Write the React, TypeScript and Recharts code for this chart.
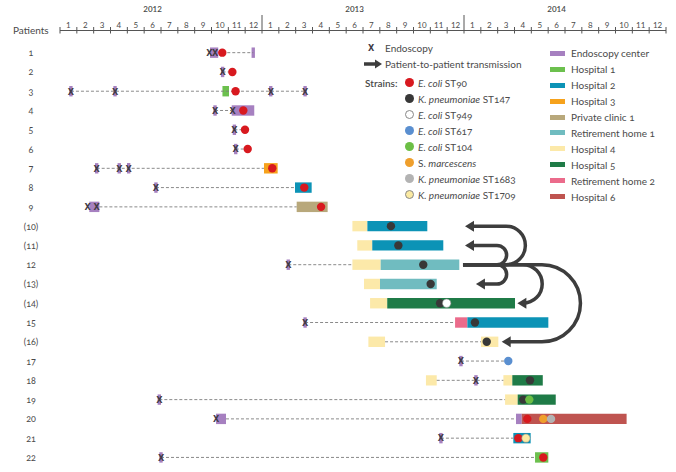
import React from "react";
import { ComposedChart, XAxis, YAxis, Scatter, ReferenceArea, ReferenceLine } from "recharts";

const W = 676;
const H = 472;
const FONT = "Lato, 'Open Sans', sans-serif";
const TEXT = "#4a4a4a";
const ARROW = "#3d3d3d";

// time axis in months since 1 Jan 2012
const yearLabels = ["2012", "2013", "2014"];
const monthLabels = ["1", "2", "3", "4", "5", "6", "7", "8", "9", "10", "11", "12"];
const monthTicks = Array.from({ length: 37 }, (_, i) => i);

const patientLabels = [
  "1", "2", "3", "4", "5", "6", "7", "8", "9", "(10)", "(11)",
  "12", "(13)", "(14)", "15", "(16)", "17", "18", "19", "20", "21", "22",
];
const patientRows = patientLabels.map((_, i) => i + 1);

const placeNames = [
  "Endoscopy center", "Hospital 1", "Hospital 2", "Hospital 3", "Private clinic 1",
  "Retirement home 1", "Hospital 4", "Hospital 5", "Retirement home 2", "Hospital 6",
];
const placeColors: Record<string, string> = {
  "Endoscopy center": "#a680c0",
  "Hospital 1": "#6cc04e",
  "Hospital 2": "#0c93b6",
  "Hospital 3": "#f6a21c",
  "Private clinic 1": "#b8a87b",
  "Retirement home 1": "#70bcc0",
  "Hospital 4": "#fce9a9",
  "Hospital 5": "#1f7b47",
  "Retirement home 2": "#eb6b8b",
  "Hospital 6": "#bf5450",
};

// [prefix, italic, suffix]
const strainLabels: [string, string, string][] = [
  ["", "E. coli", " ST90"],
  ["", "K. pneumoniae", " ST147"],
  ["", "E. coli", " ST949"],
  ["", "E. coli", " ST617"],
  ["", "E. coli", " ST104"],
  ["S. ", "marcescens", ""],
  ["", "K. pneumoniae", " ST1683"],
  ["", "K. pneumoniae", " ST1709"],
];
const strainNames = strainLabels.map((s) => s.join(""));
const strainColors: Record<string, string> = {
  "E. coli ST90": "#d8191f",
  "K. pneumoniae ST147": "#383838",
  "E. coli ST949": "#ffffff",
  "E. coli ST617": "#5a8fd0",
  "E. coli ST104": "#6cbf45",
  "S. marcescens": "#ef9f2c",
  "K. pneumoniae ST1683": "#b3b3b3",
  "K. pneumoniae ST1709": "#fbeaa2",
};

// stays: [patient row, start month, end month, place]; single-day visits have start == end
const stays: [number, number, number, string][] = [
  [1, 8.91, 9.4, "Endoscopy center"], [1, 11.48, 11.48, "Endoscopy center"],
  [2, 9.66, 9.66, "Endoscopy center"],
  [3, 0.65, 0.65, "Endoscopy center"], [3, 3.27, 3.27, "Endoscopy center"],
  [3, 9.65, 10.04, "Hospital 1"], [3, 12.52, 12.52, "Endoscopy center"], [3, 14.56, 14.56, "Endoscopy center"],
  [4, 9.21, 9.21, "Endoscopy center"], [4, 10.2, 11.54, "Endoscopy center"],
  [5, 10.36, 10.36, "Endoscopy center"],
  [6, 10.44, 10.44, "Endoscopy center"],
  [7, 2.18, 2.18, "Endoscopy center"], [7, 3.52, 3.52, "Endoscopy center"], [7, 4.08, 4.08, "Endoscopy center"],
  [7, 12.12, 12.93, "Hospital 3"],
  [8, 5.7, 5.7, "Endoscopy center"], [8, 13.96, 14.95, "Hospital 2"],
  [9, 1.74, 2.34, "Endoscopy center"], [9, 14.06, 15.9, "Private clinic 1"],
  [10, 17.37, 18.26, "Hospital 4"], [10, 18.26, 21.82, "Hospital 2"],
  [11, 17.66, 18.55, "Hospital 4"], [11, 18.55, 22.77, "Hospital 2"],
  [12, 13.56, 13.56, "Endoscopy center"], [12, 17.37, 19.05, "Hospital 4"], [12, 19.05, 23.72, "Retirement home 1"],
  [13, 18.06, 19.01, "Hospital 4"], [13, 19.01, 22.38, "Retirement home 1"],
  [14, 18.42, 19.44, "Hospital 4"], [14, 19.44, 27.03, "Hospital 5"],
  [15, 14.56, 14.56, "Endoscopy center"], [15, 23.47, 24.2, "Retirement home 2"], [15, 24.2, 29.01, "Hospital 2"],
  [16, 18.32, 19.31, "Hospital 4"], [16, 25.01, 26.04, "Hospital 4"],
  [17, 23.82, 23.82, "Endoscopy center"],
  [18, 21.74, 22.38, "Hospital 4"], [18, 24.71, 24.71, "Endoscopy center"],
  [18, 26.34, 26.87, "Hospital 4"], [18, 26.87, 28.68, "Hospital 5"],
  [19, 5.9, 5.9, "Endoscopy center"], [19, 26.44, 27.19, "Hospital 4"], [19, 27.19, 29.45, "Hospital 5"],
  [20, 9.27, 9.86, "Endoscopy center"], [20, 27.09, 27.43, "Endoscopy center"], [20, 27.43, 33.66, "Hospital 6"],
  [21, 22.63, 22.63, "Endoscopy center"], [21, 26.93, 27.96, "Hospital 2"],
  [22, 6.0, 6.0, "Endoscopy center"], [22, 28.22, 29.01, "Hospital 1"],
];

// endoscopies: [patient row, month]
const endoscopies: [number, number][] = [
  [1, 8.87], [1, 9.21], [2, 9.66], [3, 0.65], [3, 3.27], [3, 12.52], [3, 14.56],
  [4, 9.21], [4, 10.26], [5, 10.36], [6, 10.44], [7, 2.18], [7, 3.52], [7, 4.08],
  [8, 5.7], [9, 1.64], [9, 2.18], [12, 13.56], [15, 14.56], [17, 23.82], [18, 24.71],
  [19, 5.9], [20, 9.27], [21, 22.63], [22, 6.0],
];

// isolates: [patient row, month, strain]
const isolates: [number, number, string][] = [
  [1, 9.64, "E. coli ST90"], [2, 10.24, "E. coli ST90"], [3, 10.43, "E. coli ST90"],
  [4, 10.89, "E. coli ST90"], [5, 10.99, "E. coli ST90"], [6, 11.15, "E. coli ST90"],
  [7, 12.61, "E. coli ST90"], [8, 14.51, "E. coli ST90"], [9, 15.51, "E. coli ST90"],
  [10, 19.66, "K. pneumoniae ST147"], [11, 20.1, "K. pneumoniae ST147"],
  [12, 21.58, "K. pneumoniae ST147"], [13, 22.02, "K. pneumoniae ST147"],
  [14, 22.58, "K. pneumoniae ST147"], [14, 22.97, "E. coli ST949"],
  [15, 24.65, "K. pneumoniae ST147"], [16, 25.35, "K. pneumoniae ST147"],
  [17, 26.63, "E. coli ST617"], [18, 27.92, "K. pneumoniae ST147"],
  [19, 27.52, "K. pneumoniae ST147"], [19, 27.88, "E. coli ST104"],
  [20, 27.76, "E. coli ST90"], [20, 28.71, "S. marcescens"], [20, 29.17, "K. pneumoniae ST1683"],
  [21, 27.23, "E. coli ST90"], [21, 27.68, "K. pneumoniae ST1709"],
  [22, 28.71, "E. coli ST90"],
];

// follow-up (dashed): [patient row, from month, to month]
const followUps: [number, number, number][] = [
  [1, 9.64, 11.48], [2, 9.66, 10.24], [3, 0.65, 14.56], [4, 9.21, 10.2], [5, 10.36, 10.99],
  [6, 10.44, 11.15], [7, 2.18, 12.12], [8, 5.7, 13.96], [9, 2.34, 14.06], [12, 13.56, 17.37],
  [15, 14.56, 23.47], [16, 19.31, 25.01], [17, 23.82, 26.63], [18, 22.38, 26.34],
  [19, 5.9, 26.44], [20, 9.86, 27.09], [21, 22.63, 26.93], [22, 6.0, 28.22],
];

// transmissions: [from row, to row, start month, turn month, arrow tip month]
const transmissions: [number, number, number, number, number][] = [
  [12, 10, 23.94, 26.5, 24.06],
  [12, 11, 23.94, 25.96, 24.06],
  [12, 13, 23.94, 25.96, 24.71],
  [12, 14, 23.94, 27.5, 27.17],
  [12, 16, 23.94, 28.63, 26.24],
];

const BAR_HALF = 0.27;
const MIN_WIDTH = 0.2;

function MonthTick(props: any) {
  const { x, y, payload, width } = props;
  const m = payload.value as number;
  const mw = (width ?? 606) / 36;
  const isYear = m === 12 || m === 24;
  return (
    <g>
      <line x1={x} x2={x} y1={isYear ? y - 15.5 : y - 3.5} y2={y + 3} stroke="#555" strokeWidth={1} />
      {m < 36 && (
        <text x={x + mw / 2} y={y - 2.5} textAnchor="middle" fontSize={8} fill={TEXT} fontFamily={FONT}>
          {monthLabels[m % 12]}
        </text>
      )}
      {m % 12 === 6 && (
        <text x={x - mw / 2} y={y - 19} textAnchor="middle" fontSize={8} fontWeight={600} fill={TEXT} fontFamily={FONT}>
          {yearLabels[Math.floor(m / 12)]}
        </text>
      )}
      {m === 0 && (
        <text x={x - 47} y={y + 3} fontSize={10} fill={TEXT} fontFamily={FONT}>
          Patients
        </text>
      )}
    </g>
  );
}

function PatientTick(props: any) {
  const { x, y, payload } = props;
  return (
    <text x={x - 29} y={y + 3.5} textAnchor="middle" fontSize={9} fill={TEXT} fontFamily={FONT}
      style={{ fontVariantNumeric: "oldstyle-nums" }}>
      {patientLabels[payload.value - 1]}
    </text>
  );
}

function EndoMark(props: any) {
  const { cx, cy } = props;
  return (
    <text x={cx} y={cy + 3.3} textAnchor="middle" fontSize={9} fontWeight="bold" fill="#403a45"
      fontFamily="'DejaVu Sans Condensed', 'DejaVu Sans', sans-serif">
      X
    </text>
  );
}

function IsolateDot(props: any) {
  const { cx, cy, payload } = props;
  const fill = strainColors[payload.strain];
  const pale = payload.strain === "E. coli ST949" || payload.strain === "K. pneumoniae ST1709";
  return <circle cx={cx} cy={cy} r={4.2} fill={fill} stroke={pale ? "#888" : "none"} strokeWidth={pale ? 0.6 : 0} />;
}

function TransmissionArrow(props: any) {
  const pts = props.points;
  if (!pts || pts.length < 3) return <g />;
  const [s, t, h] = pts;
  const r = Math.abs(h.y - s.y) / 2;
  const sweep = h.y > s.y ? 1 : 0;
  const headLen = 9;
  const headHalf = 5.5;
  const d = `M${s.x},${s.y} H${t.x} A${r},${r} 0 0 ${sweep} ${t.x},${h.y} H${h.x + headLen - 1}`;
  return (
    <g>
      <path d={d} fill="none" stroke={ARROW} strokeWidth={3.5} />
      <polygon points={`${h.x},${h.y} ${h.x + headLen},${h.y - headHalf} ${h.x + headLen},${h.y + headHalf}`} fill={ARROW} />
    </g>
  );
}

function Legend() {
  const row = (top: number, left: number, children: React.ReactNode, key?: number) => (
    <div key={key} style={{ position: "absolute", left, top: top - 7, height: 14, lineHeight: "14px", display: "flex", alignItems: "center", whiteSpace: "nowrap" }}>
      {children}
    </div>
  );
  return (
    <div style={{ position: "absolute", left: 0, top: 0, width: W, height: H, pointerEvents: "none", fontFamily: FONT, fontSize: 10, color: TEXT }}>
      {row(48, 368, <>
        <span style={{ fontFamily: "'DejaVu Sans Condensed', sans-serif", fontWeight: "bold", fontSize: 9, color: "#403a45", width: 17 }}>X</span>
        <span>Endoscopy</span>
      </>)}
      {row(64, 364, <>
        <svg width={21} height={10}>
          <line x1={0} y1={5} x2={12} y2={5} stroke={ARROW} strokeWidth={3.5} />
          <polygon points="18,5 11,0.5 11,9.5" fill={ARROW} />
        </svg>
        <span>Patient-to-patient transmission</span>
      </>)}
      {row(82.5, 365, <span style={{ fontWeight: 600 }}>Strains:</span>)}
      {strainLabels.map(([pre, it, suf], i) =>
        row(82.5 + i * 16, 405, <>
          <span style={{
            display: "inline-block", width: 9, height: 9, borderRadius: "50%", marginRight: 4,
            background: strainColors[strainNames[i]],
            boxSizing: "border-box",
            border: strainNames[i] === "E. coli ST949" || strainNames[i] === "K. pneumoniae ST1709" ? "0.7px solid #888" : "none",
          }} />
          <span style={{ fontVariantNumeric: "oldstyle-nums" }}>{pre}<i>{it}</i>{suf}</span>
        </>, i)
      )}
      {placeNames.map((name, i) =>
        row(53.3 + i * 15.93, 550, <>
          <span style={{ display: "inline-block", width: 15, height: 5, background: placeColors[name], marginRight: 6 }} />
          <span style={{ fontVariantNumeric: "oldstyle-nums" }}>{name}</span>
        </>, 100 + i)
      )}
    </div>
  );
}

export default function App() {
  const endoPoints = endoscopies.map(([row, m]) => ({ row, m }));
  const isolatePoints = isolates.map(([row, m, strain]) => ({ row, m, strain }));
  return (
    <div style={{ position: "absolute", left: 0, top: 0, width: W, height: H, background: "#fff" }}>
      <ComposedChart width={W} height={H} margin={{ top: 0.5, right: 10, bottom: 3, left: 0 }}>
        <XAxis
          type="number"
          dataKey="m"
          orientation="top"
          domain={[0, 36]}
          allowDataOverflow
          ticks={monthTicks}
          interval={0}
          height={30}
          tickSize={0}
          tickMargin={0}
          tickLine={false}
          axisLine={{ stroke: "#555", strokeWidth: 1 }}
          tick={(p: any) => <MonthTick {...p} />}
        />
        <YAxis
          type="number"
          dataKey="row"
          domain={[-0.15, 22.6]}
          allowDataOverflow
          reversed
          ticks={patientRows}
          interval={0}
          width={60}
          tickSize={0}
          tickMargin={0}
          tickLine={false}
          axisLine={false}
          tick={(p: any) => <PatientTick {...p} />}
        />
        {followUps.map(([row, a, b], i) => (
          <ReferenceLine
            key={`f${i}`}
            segment={[{ x: a, y: row }, { x: b, y: row }]}
            stroke="#7d7d7d"
            strokeWidth={0.9}
            strokeDasharray="3 2"
          />
        ))}
        {stays.map(([row, a, b, place], i) => {
          const pad = b - a < MIN_WIDTH ? (MIN_WIDTH - (b - a)) / 2 : 0;
          return (
            <ReferenceArea
              key={`s${i}`}
              x1={a - pad}
              x2={b + pad}
              y1={row - BAR_HALF}
              y2={row + BAR_HALF}
              fill={placeColors[place]}
              fillOpacity={1}
              stroke="none"
            />
          );
        })}
        <Scatter data={endoPoints} shape={(p: any) => <EndoMark {...p} />} isAnimationActive={false} />
        <Scatter data={isolatePoints} shape={(p: any) => <IsolateDot {...p} />} isAnimationActive={false} />
        {transmissions.map(([from, to, start, turn, tip], i) => (
          <Scatter
            key={`t${i}`}
            data={[{ m: start, row: from }, { m: turn, row: from }, { m: tip, row: to }]}
            shape={() => <g />}
            line={(p: any) => <TransmissionArrow {...p} />}
            lineType="joint"
            isAnimationActive={false}
          />
        ))}
      </ComposedChart>
      <Legend />
    </div>
  );
}
